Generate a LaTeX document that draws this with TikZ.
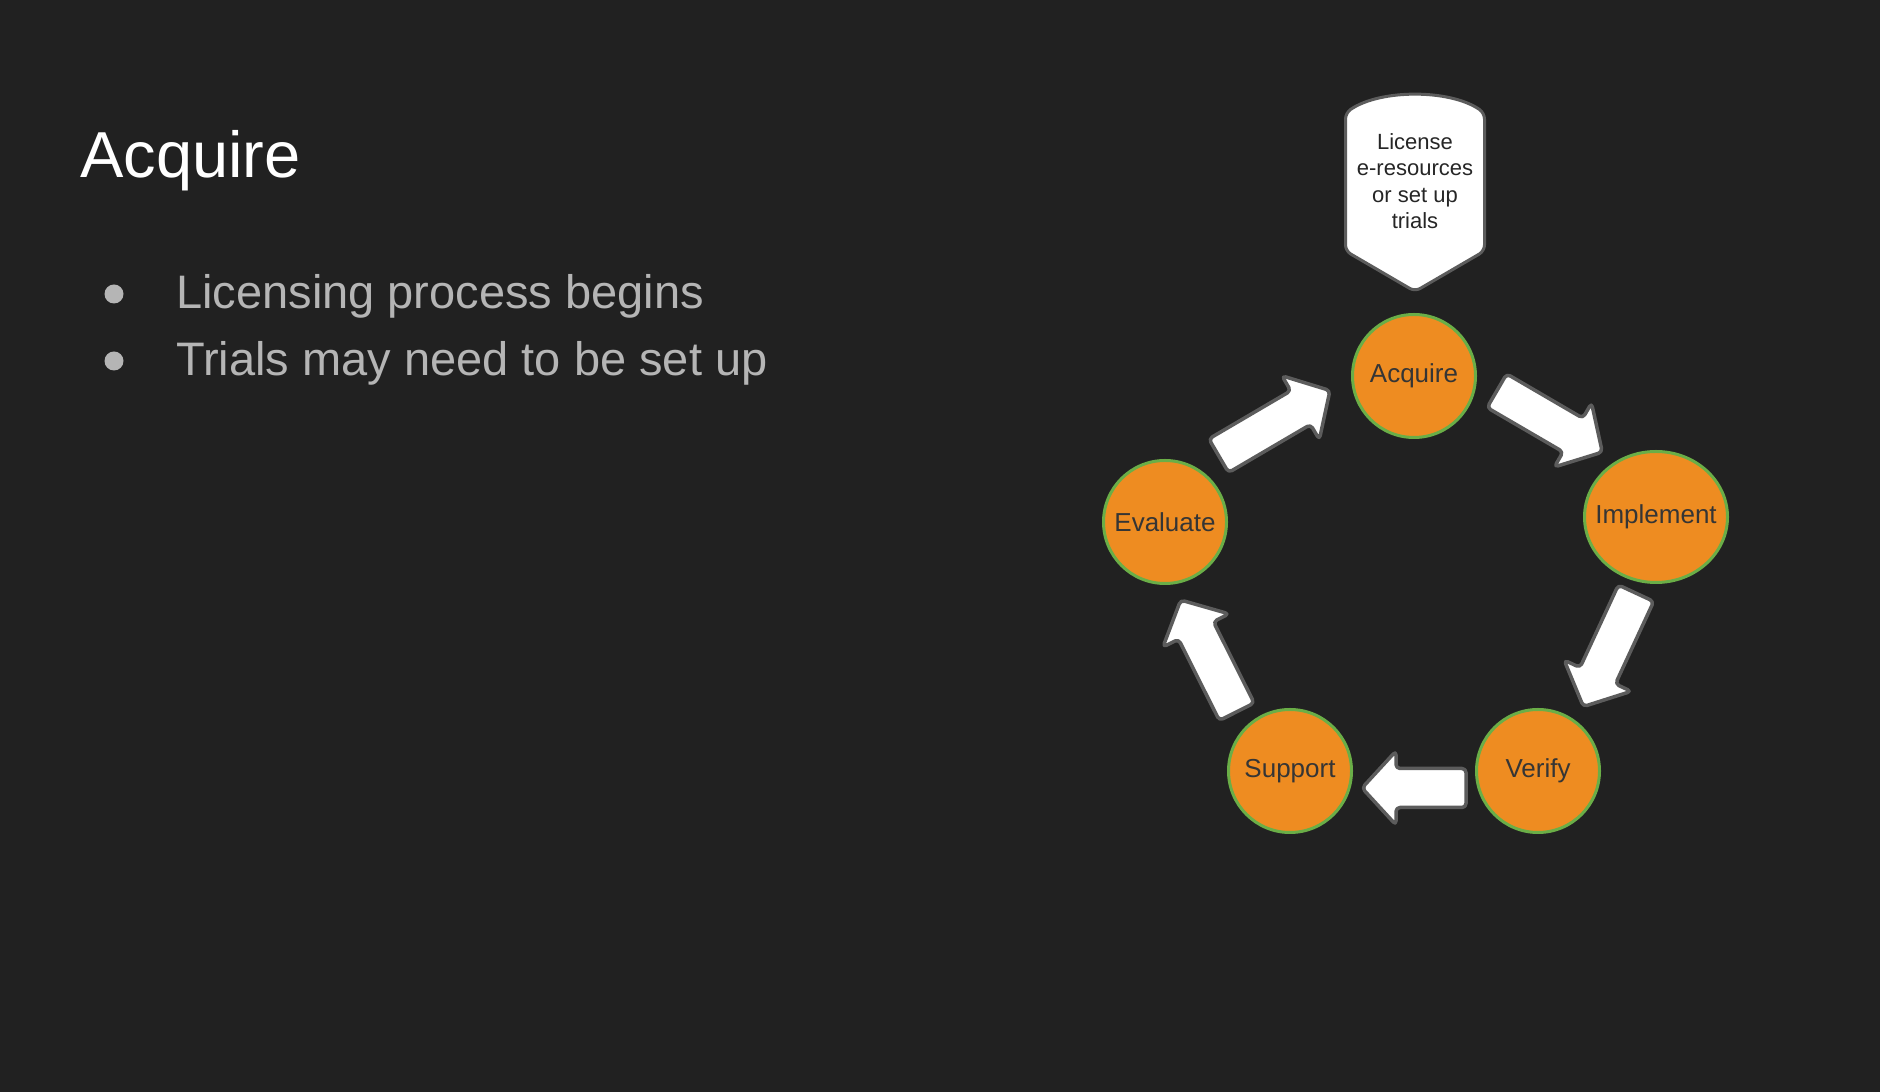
\documentclass[tikz,border=0pt]{standalone}
\usepackage{fontspec}
\setmainfont{Liberation Sans}
\usetikzlibrary{shapes.geometric,positioning}

\definecolor{slidebg}{HTML}{212121}
\definecolor{stagefill}{HTML}{EE8C21}
\definecolor{stageedge}{HTML}{6AAE47}
\definecolor{stagetext}{HTML}{353535}
\definecolor{arrowedge}{HTML}{5C5C5C}
\definecolor{bulletgray}{HTML}{B5B5B5}

\begin{document}
\begin{tikzpicture}[x=1pt, y=1pt,
    stage/.style={circle, draw=stageedge, fill=stagefill, line width=3pt,
      minimum size=123pt, inner sep=0pt, text=stagetext,
      font=\fontsize{26}{30}\selectfont},
    point/.style={anchor=base west, inner sep=0pt, text=bulletgray,
      font=\fontsize{47}{56}\selectfont},
    dot/.style={circle, fill=bulletgray, minimum size=19pt, inner sep=0pt},
    pics/blockarrow/.style 2 args={code={
      \draw[draw=arrowedge, fill=white, line width=3.5pt, rounded corners=4pt, line join=round]
        (-#1/2, #2-19.5) -- (#1/2-34, #2-19.5) -- (#1/2-34, #2-37) -- (#1/2, #2)
        -- (#1/2-34, #2+37) -- (#1/2-34, #2+19.5) -- (-#1/2, #2+19.5) -- cycle;
    }}]
        \useasboundingbox (0,0) rectangle (1880,1092);
        \fill[slidebg] (0,0) rectangle (1880,1092);

        % left column
        \node (title) [anchor=base west, inner sep=0pt, text=white, font=\fontsize{65}{78}\selectfont] at (80,914) {Acquire};
        \node (p1) [point] at (176,783) {Licensing process begins};
        \node (p2) [point] at (176,716) {Trials may need to be set up};
        \node (d1) [dot] at (114,798) {};
        \node (d2) [dot] at (114,731) {};

        % cycle
        \node (acq) [stage] at (1414,716) {Acquire};
        \node (impl) [stage, ellipse, minimum width=143pt, minimum height=131pt, inner xsep=-12pt] at (1656,575) {Implement};
        \node (sup) [stage] at (1290,321) {Support};
        \node (ver) [stage, right=122pt of sup] {Verify};
        \node (eval) [stage] at (1165,570) {Evaluate};

        % callout above acquire
        \draw[draw=arrowedge, fill=white, line width=3pt, rounded corners=6pt]
          (1345.5,841) -- (1345.5,979) .. controls (1380,1003) and (1450,1003) .. (1484.5,979)
          -- (1484.5,841) -- (1415,800.5) -- cycle;
        \node (lic) [align=center, text=black!85, font=\fontsize{22}{26.5}\selectfont] at (1415,911) {License\\e-resources\\or set up\\trials};

        \path (acq.center) -- (impl.center) pic[pos=.5, sloped, allow upside down] {blockarrow={122}{29}};
        \path (impl.center) -- (ver.center) pic[pos=.5, sloped, allow upside down] {blockarrow={125}{14}};
        \path (ver.center) -- (sup.center) pic[pos=.5, sloped, allow upside down] {blockarrow={104}{17}};
        \path (sup.center) -- (eval.center) pic[pos=.5, sloped, allow upside down] {blockarrow={125}{21}};
        \path (eval.center) -- (acq.center) pic[pos=.5, sloped, allow upside down] {blockarrow={129}{30}};
\end{tikzpicture}
\end{document}
